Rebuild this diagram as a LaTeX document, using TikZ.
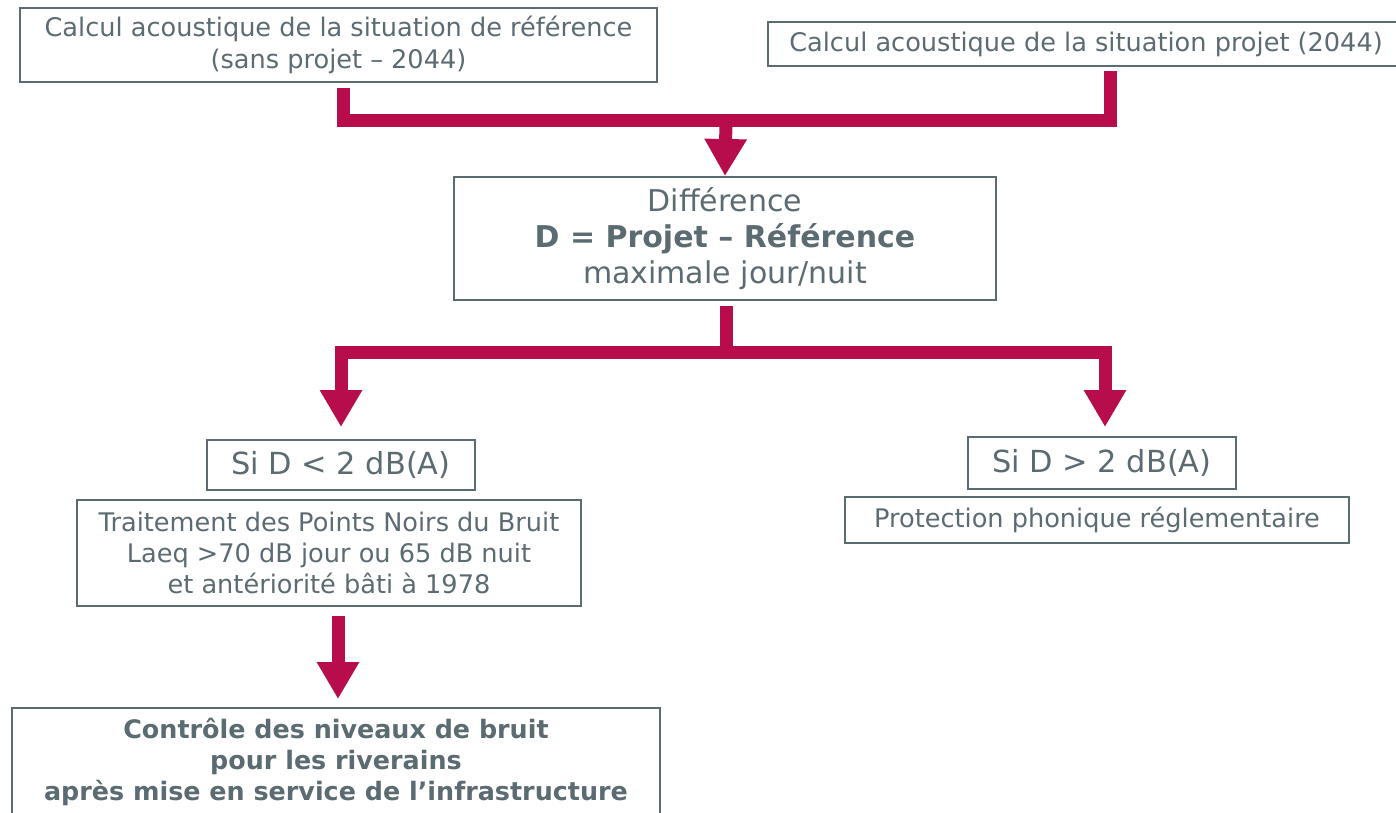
\documentclass[tikz,border=0pt]{standalone}
\usepackage{fontspec}
\setmainfont{DejaVu Sans}
\usetikzlibrary{arrows.meta,calc}
\definecolor{ardoise}{HTML}{5B6B72}
\definecolor{bordeau}{HTML}{B80D4C}
\begin{document}
\begin{tikzpicture}[x=1pt,y=-1pt,
  boite/.style={draw=ardoise, line width=2pt, text=ardoise, align=center, inner sep=0pt},
  petit/.style={font=\fontsize{25.6}{32}\selectfont},
  moyen/.style={font=\fontsize{30}{36}\selectfont},
  grand/.style={font=\fontsize{30.4}{34}\selectfont},
  gras/.style={font=\bfseries\fontsize{25.4}{31}\selectfont},
  barre/.style={draw=bordeau, line width=13pt},
  fleche/.style={draw=bordeau, line width=13pt, -{Triangle[width=40pt,length=37pt]}}]
\useasboundingbox (0,0) rectangle (1396,812);

% Boites
\node[boite, petit, minimum width=637pt, minimum height=74pt] (ref) at (338.5,45)
  {Calcul acoustique de la situation de référence\\(sans projet – 2044)};
\node[boite, petit, minimum width=636pt, minimum height=44pt] (projet) at (1086,44)
  {Calcul acoustique de la situation projet (2044)};
\node[boite, moyen, minimum width=542pt, minimum height=123pt] (diff) at (725,238.5)
  {Différence\\\textbf{D = Projet – Référence}\\maximale jour/nuit};
\node[boite, grand, minimum width=268pt, minimum height=50pt] (inf) at (341,465)
  {Si D < 2 dB(A)};
\node[boite, petit, minimum width=504pt, minimum height=106pt, font=\fontsize{25.6}{31}\selectfont] (pnb) at (329,553)
  {Traitement des Points Noirs du Bruit\\Laeq >70 dB jour ou 65 dB nuit\\et antériorité bâti à 1978};
\node[boite, grand, minimum width=268pt, minimum height=52pt] (sup) at (1102,463)
  {Si D > 2 dB(A)};
\node[boite, petit, minimum width=504pt, minimum height=46pt] (protec) at (1097,520)
  {Protection phonique réglementaire};
\node[boite, gras, minimum width=648pt, minimum height=108pt] (controle) at (336,762)
  {Contrôle des niveaux de bruit\\pour les riverains\\après mise en service de l’infrastructure};

% Fleches
\coordinate (j1) at (726,120);
\coordinate (j2) at (726,352);
\draw[barre] ($(ref.south)+(5,5)$) |- (j1) -| ($(projet.south)+(24,4)$);
\draw[fleche] (j1) -- (diff.north);
\draw[barre] ($(diff.south)+(1,5)$) -- (j2);
\draw[fleche] (j2) -| ($(inf.north)+(0,-12)$);
\draw[fleche] (j2) -| ($(sup.north)+(3,-9)$);
\draw[fleche] ($(pnb.south)+(9,9)$) -- ($(controle.north)+(2,-8)$);
\end{tikzpicture}
\end{document}
